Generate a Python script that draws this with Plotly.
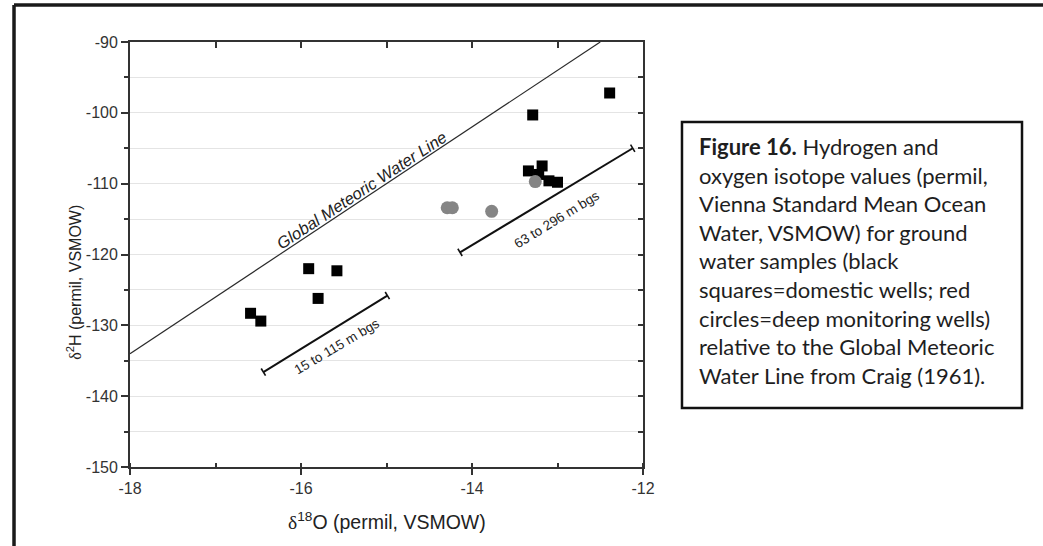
import plotly.graph_objects as go

# Domestic wells (black squares): delta-18O and delta-2H, permil VSMOW
dom_o18 = [-16.59, -16.47, -15.91, -15.80, -15.58, -13.34, -13.22, -13.18, -13.10, -13.00, -13.29, -12.39]
dom_h2 = [-128.3, -129.4, -122.0, -126.2, -122.3, -108.2, -108.7, -107.5, -109.6, -109.8, -100.3, -97.2]

# Deep monitoring wells (grey circles)
deep_o18 = [-14.29, -14.23, -13.77, -13.26]
deep_h2 = [-113.4, -113.4, -113.9, -109.7]

# Global Meteoric Water Line (Craig, 1961): d2H = 8 * d18O + 10
gmwl_slope = 8.0
gmwl_intercept = 10.0
gmwl_o18 = [-18.0, -12.5]
gmwl_h2 = [gmwl_slope * v + gmwl_intercept for v in gmwl_o18]

# Depth-range bars
shallow_o18 = [-16.44, -14.99]
shallow_h2 = [-136.6, -125.8]
deep_bar_o18 = [-14.14, -12.12]
deep_bar_h2 = [-119.7, -105.0]

x_range = [-18, -12]
y_range = [-150, -90]
x_tickvals = [-18, -16, -14, -12]
x_ticktext = ["-18", "-16", "-14", "-12"]
y_tickvals = [-150, -140, -130, -120, -110, -100, -90]
y_ticktext = ["-150", "-140", "-130", "-120", "-110", "-100", "-90"]

AX = "Liberation Sans, Arial, sans-serif"
SERIF = "Liberation Serif, Times New Roman, serif"
AXC = "#333333"

fig = go.Figure()

fig.add_trace(go.Scatter(x=gmwl_o18, y=gmwl_h2, mode="lines",
                         line=dict(color="#2a2a2a", width=1.2),
                         showlegend=False, hoverinfo="skip"))

for bx, by in ((shallow_o18, shallow_h2), (deep_bar_o18, deep_bar_h2)):
    fig.add_trace(go.Scatter(x=bx, y=by, mode="lines+markers",
                             line=dict(color="#111111", width=2),
                             marker=dict(symbol="line-ns", size=6, angle=-31,
                                         line=dict(color="#111111", width=1.6)),
                             showlegend=False, hoverinfo="skip"))

fig.add_trace(go.Scatter(x=dom_o18, y=dom_h2, mode="markers",
                         marker=dict(symbol="square", size=11, color="#000000",
                                     line=dict(width=0)),
                         name="Domestic wells", showlegend=False))

fig.add_trace(go.Scatter(x=deep_o18, y=deep_h2, mode="markers",
                         marker=dict(symbol="circle", size=13, color="#858585",
                                     line=dict(width=0)),
                         name="Deep monitoring wells", showlegend=False))

# carrier trace for the mirrored top / right axes
fig.add_trace(go.Scatter(x=[None], y=[None], xaxis="x2", yaxis="y2",
                         showlegend=False, hoverinfo="skip"))

line_angle = -33.4
fig.add_annotation(x=-15.29, y=-110.95, text="<i>Global Meteoric Water Line</i>",
                   showarrow=False, textangle=line_angle,
                   font=dict(family=AX, size=16.5, color="#222222"))
fig.add_annotation(x=-15.58, y=-133.0, text="15 to 115 m bgs",
                   showarrow=False, textangle=-30.5,
                   font=dict(family=AX, size=13.5, color="#222222"))
fig.add_annotation(x=-13.01, y=-115.0, text="63 to 296 m bgs",
                   showarrow=False, textangle=-31.5,
                   font=dict(family=AX, size=13.5, color="#222222"))

# axis titles
fig.add_annotation(xref="paper", x=0, xshift=-68, yref="y", y=-124,
                   text=f"<span style='font-family:{SERIF}'>δ</span><sup>2</sup>H (permil, VSMOW)",
                   showarrow=False, textangle=-90,
                   font=dict(family=AX, size=16, color="#222222"))
fig.add_annotation(xref="paper", x=0.5, yref="paper", y=0, yshift=-54,
                   yanchor="middle",
                   text=f"<span style='font-family:{SERIF}'>δ</span><sup>18</sup>O (permil, VSMOW)",
                   showarrow=False,
                   font=dict(family=AX, size=19.5, color="#222222"))

# caption box
fig.add_shape(type="rect", xref="paper", yref="paper",
              x0=1.0760, x1=1.7388, y0=0.1388, y1=0.8118,
              line=dict(color="#111111", width=2.5), fillcolor="white")
fig.add_annotation(xref="paper", yref="paper", x=1.105, y=0.485,
                   xanchor="left", yanchor="middle", align="left",
                   showarrow=False,
                   text=("<b>Figure 16.</b> Hydrogen and<br>"
                         "oxygen isotope values (permil,<br>"
                         "Vienna Standard Mean Ocean<br>"
                         "Water, VSMOW) for ground<br>"
                         "water samples (black<br>"
                         "squares=domestic wells; red<br>"
                         "circles=deep monitoring wells)<br>"
                         "relative to the Global Meteoric<br>"
                         "Water Line from Craig (1961)."),
                   font=dict(family="Lato, Carlito, sans-serif", size=22, color="#1e1e1e"))

# outer frame (top and left edges)
fig.add_shape(type="line", xref="paper", yref="paper",
              x0=-0.2261, x1=1.80, y0=1.0871, y1=1.0871,
              line=dict(color="#1a1a1a", width=3.5))
fig.add_shape(type="line", xref="paper", yref="paper",
              x0=-0.2261, x1=-0.2261, y0=1.0871, y1=-0.20,
              line=dict(color="#1a1a1a", width=3.5))

fig.update_layout(
    width=1043, height=546,
    margin=dict(l=130, r=400, t=42, b=79),
    paper_bgcolor="white", plot_bgcolor="white",
    xaxis=dict(range=x_range, tickmode="array", tickvals=x_tickvals, ticktext=x_ticktext,
               showgrid=False, zeroline=False,
               showline=True, linecolor=AXC, linewidth=1.8,
               ticks="outside", ticklen=6, tickwidth=1.5, tickcolor=AXC,
               minor=dict(dtick=1, tick0=-18, ticks="inside", ticklen=4, tickwidth=1.5,
                          tickcolor=AXC, showgrid=False),
               tickfont=dict(family=AX, size=16, color="#333333")),
    yaxis=dict(range=y_range, tickmode="array", tickvals=y_tickvals, ticktext=y_ticktext,
               showgrid=False, zeroline=False,
               showline=True, linecolor=AXC, linewidth=1.8,
               ticks="outside", ticklen=7, tickwidth=1.5, tickcolor=AXC,
               minor=dict(dtick=5, tick0=-150, ticks="outside", ticklen=4, tickwidth=1.5,
                          tickcolor=AXC, showgrid=True, gridcolor="#e4e4e4",
                          gridwidth=1),
               tickfont=dict(family=AX, size=16, color="#333333")),
    xaxis2=dict(range=x_range, overlaying="x", side="top", anchor="y",
                dtick=1, tick0=-18, showticklabels=False, showgrid=False,
                zeroline=False, showline=True, linecolor=AXC, linewidth=1.8,
                ticks="inside", ticklen=6, tickwidth=1.5, tickcolor=AXC),
    yaxis2=dict(range=y_range, overlaying="y", side="right", anchor="x",
                dtick=5, tick0=-150, showticklabels=False, showgrid=False,
                zeroline=False, showline=True, linecolor=AXC, linewidth=1.8,
                ticks="inside", ticklen=5, tickwidth=1.5, tickcolor=AXC),
)

fig.write_html("out.html")
